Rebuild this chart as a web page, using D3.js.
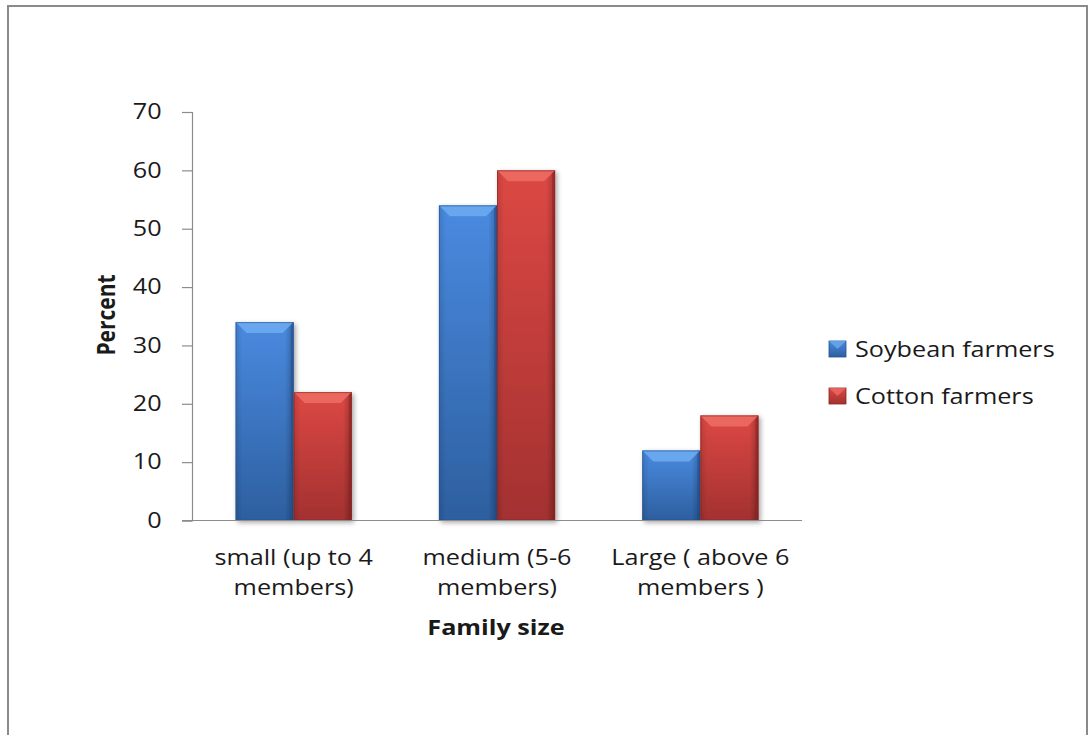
<!DOCTYPE html>
<html>
<head>
<meta charset="utf-8">
<script src="https://cdn.jsdelivr.net/npm/d3@7"></script>
<style>
  html, body { margin: 0; padding: 0; background: #fff; }
  svg { display: block; }
  text { font-family: "Open Sans", "Liberation Sans", sans-serif; fill: #1a1a1a; }
</style>
</head>
<body>
<svg id="chart" width="1088" height="735"></svg>
<script>
// Family size of surveyed farmers (percent)
const categories = [["small (up to 4", "members)"], ["medium (5-6", "members)"], ["Large ( above 6", "members )"]];
const seriesNames = ["Soybean farmers", "Cotton farmers"];
const soybean = [34, 54, 12];
const cotton = [22, 60, 18];
const yTicks = [0, 10, 20, 30, 40, 50, 60, 70];

const palette = {
  "Soybean farmers": { light: "#4a8ae0", top: "#6aaaf0", dark: "#24518f", edge: "#2d5f9f" },
  "Cotton farmers": { light: "#dc4844", top: "#ec6a63", dark: "#8a2422", edge: "#a33130" }
};

// text in this chart is set slightly wide
const SX = 1.2;

const svg = d3.select("#chart");
const defs = svg.append("defs");

// outer frame
svg.append("rect")
  .attr("x", 8).attr("y", 6).attr("width", 1079).attr("height", 740)
  .attr("fill", "#fff").attr("stroke", "#8a8a8a").attr("stroke-width", 2);

const plot = { left: 192, right: 802, top: 112, bottom: 520.5 };

const x0 = d3.scaleBand().domain(d3.range(categories.length))
  .range([plot.left, plot.right]).paddingInner(0).paddingOuter(0);
// two bars per band, gap width 150% of a bar
const barW = x0.bandwidth() / 3.5;
const y = d3.scaleLinear().domain([0, 70]).range([plot.bottom, plot.top]);

seriesNames.forEach((s, i) => {
  const c = palette[s];
  const g = defs.append("linearGradient").attr("id", "grad" + i)
    .attr("x1", 0).attr("y1", 0).attr("x2", 0).attr("y2", 1);
  g.append("stop").attr("offset", "0%").attr("stop-color", c.light);
  g.append("stop").attr("offset", "100%").attr("stop-color", c.edge);
  const h = defs.append("linearGradient").attr("id", "hgrad" + i)
    .attr("x1", 0).attr("y1", 0).attr("x2", 1).attr("y2", 0);
  h.append("stop").attr("offset", "0%").attr("stop-color", "#000").attr("stop-opacity", 0.12);
  h.append("stop").attr("offset", "12%").attr("stop-color", "#000").attr("stop-opacity", 0);
  h.append("stop").attr("offset", "85%").attr("stop-color", "#000").attr("stop-opacity", 0);
  h.append("stop").attr("offset", "100%").attr("stop-color", "#000").attr("stop-opacity", 0.25);
});

const shadow = defs.append("filter").attr("id", "shadow")
  .attr("x", "-20%").attr("y", "-10%").attr("width", "150%").attr("height", "130%");
shadow.append("feGaussianBlur").attr("in", "SourceAlpha").attr("stdDeviation", 2.5);
shadow.append("feOffset").attr("dx", 2).attr("dy", 2).attr("result", "b");
shadow.append("feComponentTransfer").append("feFuncA").attr("type", "linear").attr("slope", 0.35);
const merge = shadow.append("feMerge");
merge.append("feMergeNode");
merge.append("feMergeNode").attr("in", "SourceGraphic");

// y axis
const yAxis = d3.axisLeft(y).tickValues(yTicks).tickSize(10).tickPadding(15.3);
const ya = svg.append("g").attr("transform", `translate(${plot.left},0)`).call(yAxis);
ya.select(".domain").attr("stroke", "#8c8c8c").attr("stroke-width", 1.2);
ya.selectAll(".tick line").attr("stroke", "#8c8c8c").attr("stroke-width", 1.2);
ya.selectAll(".tick text").style("font-family", "'Open Sans', sans-serif")
  .style("font-size", "21px").attr("fill", "#1a1a1a")
  .attr("transform", `scale(${SX},1)`);

const series = [soybean, cotton];

series.forEach((vals, si) => {
  const c = palette[seriesNames[si]];
  const g = svg.append("g");
  vals.forEach((v, ci) => {
    const xs = x0(ci) + x0.bandwidth() / 2 - barW + si * barW;
    const yt = y(v), yb = y(0);
    const bv = Math.min(11, (yb - yt) / 2);
    const bar = g.append("g").attr("filter", "url(#shadow)");
    bar.append("rect").attr("x", xs).attr("y", yt).attr("width", barW).attr("height", yb - yt)
      .attr("fill", `url(#grad${si})`);
    bar.append("rect").attr("x", xs).attr("y", yt).attr("width", barW).attr("height", yb - yt)
      .attr("fill", `url(#hgrad${si})`);
    bar.append("polygon")
      .attr("points", [[xs, yt], [xs + barW, yt], [xs + barW - bv, yt + bv], [xs + bv, yt + bv]].map(p => p.join(",")).join(" "))
      .attr("fill", c.top).attr("opacity", 0.9);
    bar.append("polygon")
      .attr("points", [[xs + barW, yt], [xs + barW, yb], [xs + barW - 3, yb], [xs + barW - 3, yt + 3]].map(p => p.join(",")).join(" "))
      .attr("fill", c.dark).attr("opacity", 0.55);
    bar.append("rect").attr("x", xs + 0.5).attr("y", yt + 0.5).attr("width", barW - 1).attr("height", yb - yt - 1)
      .attr("fill", "none").attr("stroke", c.dark).attr("stroke-width", 1).attr("opacity", 0.6);
  });
});

// x axis baseline
svg.append("line").attr("x1", plot.left - 10).attr("x2", plot.right)
  .attr("y1", plot.bottom).attr("y2", plot.bottom)
  .attr("stroke", "#8c8c8c").attr("stroke-width", 1.2);

// a text placed at (x, y) and widened by SX about its anchor
function wideText(x, yy, str, size, anchor, weight) {
  return svg.append("g").attr("transform", `translate(${x},${yy}) scale(${SX},1)`)
    .append("text").attr("text-anchor", anchor || "start")
    .style("font-size", size + "px").style("font-weight", weight || "normal").text(str);
}

// category labels
categories.forEach((lines, ci) => {
  const cx = x0(ci) + x0.bandwidth() / 2;
  lines.forEach((ln, li) => wideText(cx, 565 + li * 30, ln, 21, "middle"));
});

// axis titles
wideText(496, 635, "Family size", 21, "middle", "bold");
svg.append("g").attr("transform", `translate(115,315) rotate(-90) scale(1,${SX})`)
  .append("text").attr("text-anchor", "middle")
  .style("font-size", "21px").style("font-weight", "bold").text("Percent");

// legend
seriesNames.forEach((s, i) => {
  const c = palette[s];
  const ly = 349 + i * 47;
  svg.append("rect").attr("x", 829).attr("y", ly - 8).attr("width", 17).attr("height", 16)
    .attr("fill", `url(#grad${i})`).attr("stroke", c.dark).attr("stroke-width", 0.8);
  svg.append("polygon")
    .attr("points", `829,${ly - 8} 846,${ly - 8} 837.5,${ly}`).attr("fill", c.top).attr("opacity", 0.8);
  wideText(855, ly + 8, s, 21, "start");
});
</script>
</body>
</html>
